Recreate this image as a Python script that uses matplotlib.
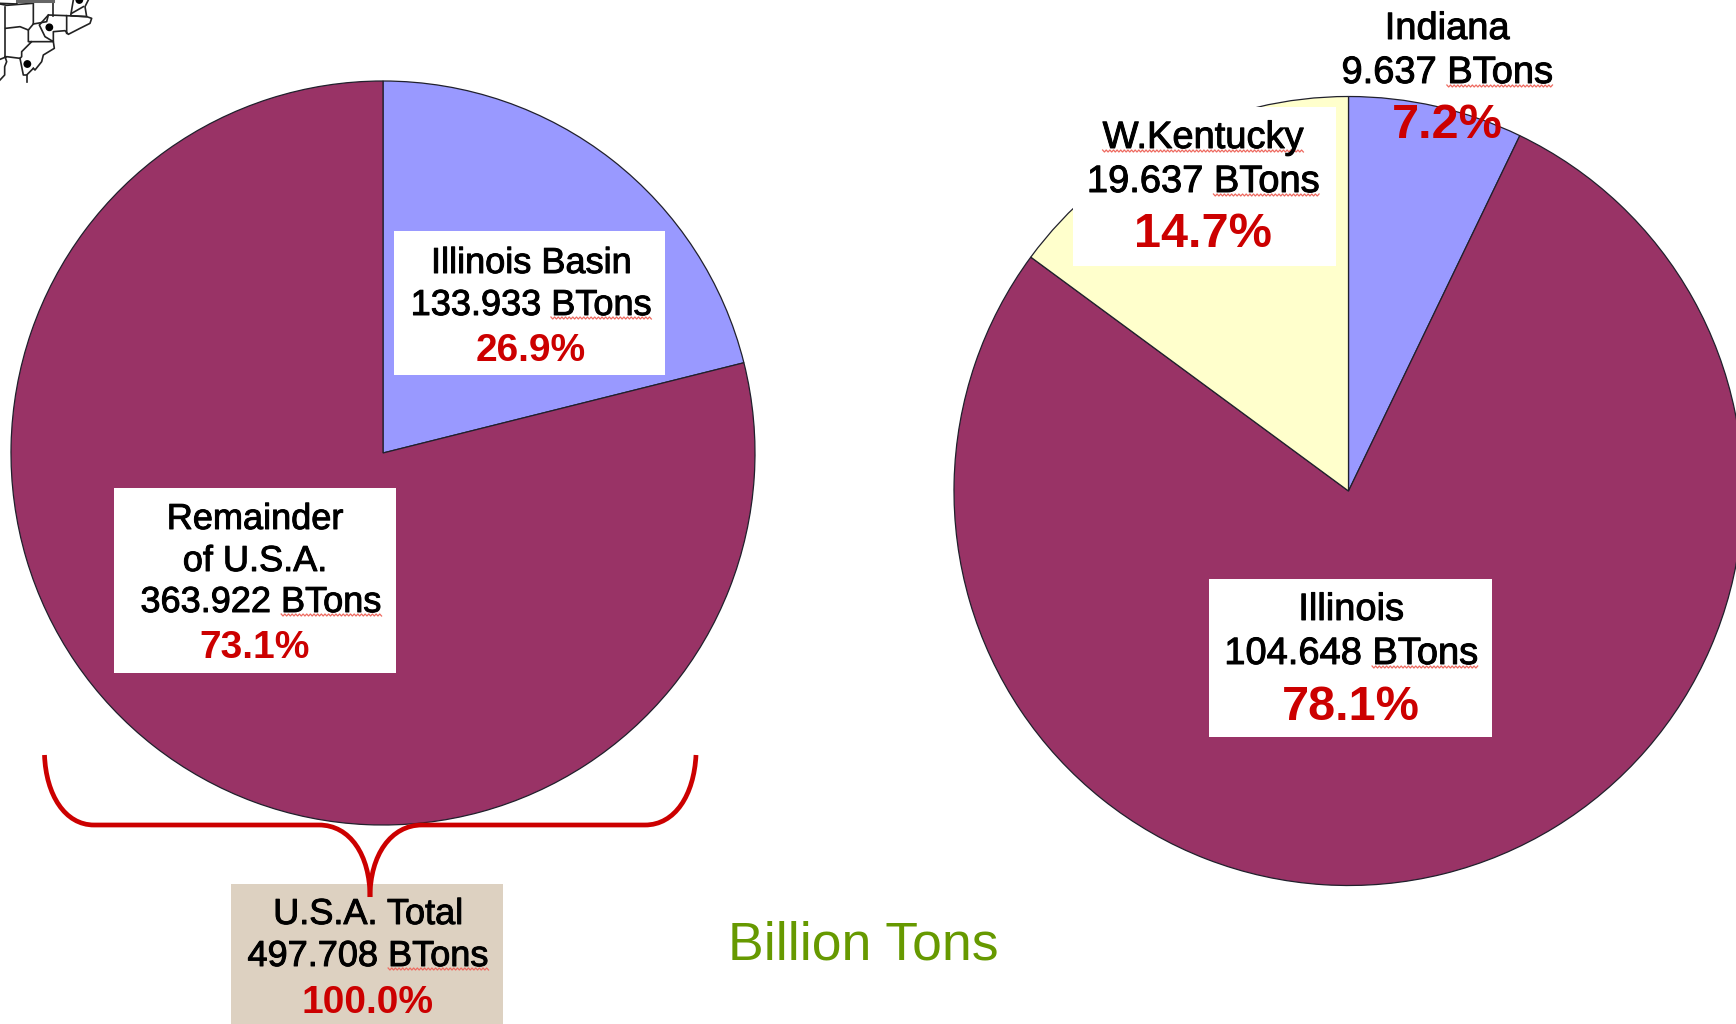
import numpy as np
import matplotlib
matplotlib.use("Agg")
import matplotlib.pyplot as plt
import matplotlib.patheffects as pe
from matplotlib.patches import Rectangle, PathPatch, Circle
from matplotlib.path import Path

plt.rcParams['font.family'] = ['Liberation Sans', 'DejaVu Sans']

# ---- data ----
left_names = ["Illinois Basin", "Remainder", "of U.S.A."]
left_tons = [133.933, 363.922]
left_pct_labels = ["26.9%", "73.1%"]
left_drawn_share = [21.1, 78.9]      # angular share as drawn in the picture
left_colors = ["#9999FF", "#993366"]

right_names = ["Indiana", "Illinois", "W.Kentucky"]
right_tons = [9.637, 104.648, 19.637]
right_pct = [7.2, 78.1, 14.7]
right_drawn_share = [7.15, 77.95, 14.9]  # angular share as drawn in the picture
right_colors = ["#9999FF", "#993366", "#FFFFCC"]

total_label = "U.S.A. Total"
total_tons = 497.708
total_pct = "100.0%"
unit_title = "Billion Tons"

RED = "#CC0000"
W, H = 1736, 1024

fig = plt.figure(figsize=(W / 100, H / 100), dpi=100, facecolor="white")
ax = fig.add_axes([0, 0, 1, 1])


def Y(y):
    return H - y


edge = dict(edgecolor="#20202c", linewidth=0.9)
ax.pie(left_drawn_share, colors=left_colors, startangle=90, counterclock=False,
       center=(383, Y(453)), radius=372, wedgeprops=edge, frame=True)
ax.pie(right_drawn_share, colors=right_colors, startangle=90, counterclock=False,
       center=(1348.5, Y(491)), radius=394.5, wedgeprops=edge, frame=True)
ax.set_xlim(0, W)
ax.set_ylim(0, H)
ax.set_aspect("equal")
ax.axis("off")


def box(x0, y0, x1, y1, color="white", z=3):
    ax.add_patch(Rectangle((x0, Y(y1)), x1 - x0, y1 - y0, facecolor=color,
                           edgecolor="none", zorder=z))


box(394, 231, 665, 375)
box(114, 488, 396, 673)
box(1209, 579, 1492, 737)
box(1072.5, 107, 1336, 266)
box(231, 884, 503, 1024, color="#DDD1C1")

renderer = fig.canvas.get_renderer()


def squiggle(x0, x1, y):
    n = int((x1 - x0) / 1.8)
    xs = np.linspace(x0, x1, n + 1)
    ys = Y(y) + np.where(np.arange(n + 1) % 2 == 0, 1.0, -1.0)
    ax.plot(xs, ys, color="#EE6A60", lw=0.9, zorder=6)


def line(s, cx, base, size=26, underline=None, color="black", weight="normal"):
    t = ax.text(cx, Y(base), s, ha="center", va="baseline", fontsize=size,
                color=color, fontweight=weight, zorder=7)
    if weight == "normal":
        t.set_path_effects([pe.withStroke(linewidth=0.7, foreground=color)])
    if underline:
        bb = t.get_window_extent(renderer)
        probe = ax.text(0, 0, underline, fontsize=size)
        w = probe.get_window_extent(renderer).width
        probe.remove()
        if s.endswith(underline):
            squiggle(bb.x1 - w, bb.x1, base + 3)
        else:
            squiggle(bb.x0, bb.x0 + w, base + 3)
    return t


def tons(v):
    return f"{v:.3f} BTons"


# Left pie labels
line(left_names[0], 531, 273)
line(tons(left_tons[0]), 531, 315, underline="BTons")
line(left_pct_labels[0], 531, 361, size=28, color=RED, weight="bold")

line(left_names[1], 255, 529)
line(left_names[2], 255, 571)
line(tons(left_tons[1]), 261, 612, underline="BTons")
line(left_pct_labels[1], 255, 658, size=28, color=RED, weight="bold")

# Right pie labels
RS = 27.4
line(right_names[0], 1447, 39, size=RS)
line(tons(right_tons[0]), 1447, 83, size=RS, underline="BTons")
line(f"{right_pct[0]:.1f}%", 1447, 138, size=35, color=RED, weight="bold")

line(right_names[2], 1203, 148, size=RS, underline="W.Kentucky")
line(tons(right_tons[2]), 1203, 192, size=RS, underline="BTons")
line(f"{right_pct[2]:.1f}%", 1203, 247, size=35, color=RED, weight="bold")

line(right_names[1], 1351, 620, size=RS)
line(tons(right_tons[1]), 1351, 664, size=RS, underline="BTons")
line(f"{right_pct[1]:.1f}%", 1351, 720, size=35, color=RED, weight="bold")

# Total box
line(total_label, 368, 924)
line(tons(total_tons), 368, 966, underline="BTons")
line(total_pct, 368, 1013, size=28, color=RED, weight="bold")

ax.text(863, Y(960), unit_title, ha="center", va="baseline", fontsize=38.5,
        color="#669900", zorder=7)

# Red curly brace
M, L, C4 = Path.MOVETO, Path.LINETO, Path.CURVE4
brace_left = Path(
    [(44.5, Y(755)), (46, Y(795)), (65, Y(825)), (94, Y(825)),
     (319, Y(825)), (350, Y(825)), (370, Y(855)), (370, Y(897))],
    [M, C4, C4, C4, L, C4, C4, C4])
brace_right = Path(
    [(696, Y(755)), (694, Y(795)), (675, Y(825)), (645, Y(825)),
     (422, Y(825)), (391, Y(825)), (370, Y(855)), (370, Y(897))],
    [M, C4, C4, C4, L, C4, C4, C4])
for p in (brace_left, brace_right):
    ax.add_patch(PathPatch(p, facecolor="none", edgecolor=RED, lw=3.4,
                           zorder=6, capstyle="butt"))

# Locator map fragment (top-left), traced in pixels
map_lines = [
    [(0, 10), (50, 12), (52, 6), (97, 3)],
    [(97, 10), (20, 16), (0, 12)],
    [(14, 20), (14, 170), (18, 170)],
    [(17, 85), (60, 80), (85, 90)],
    [(100, 10), (100, 72), (85, 90), (85, 125), (95, 125), (65, 155), (65, 170),
     (60, 175), (20, 170), (0, 178)],
    [(100, 72), (140, 65), (145, 45), (200, 47), (200, 100)],
    [(145, 45), (118, 75), (135, 110), (160, 125), (160, 95), (195, 92),
     (205, 103), (240, 85), (270, 70), (275, 55), (260, 50), (200, 47)],
    [(95, 125), (160, 125), (163, 145), (130, 165), (125, 185), (105, 210),
     (100, 205)],
    [(60, 175), (70, 225), (80, 225), (100, 205)],
    [(80, 225), (80, 245)],
    [(15, 170), (20, 185), (14, 200), (14, 225), (0, 240)],
    [(160, 0), (160, 47)],
    [(220, 0), (212, 47), (260, 50), (255, 20), (265, 0)],
    [(215, 40), (250, 20)],
]
for pl in map_lines:
    arr = np.array(pl, float) / 3
    ax.plot(arr[:, 0], H - arr[:, 1], color="#222222", lw=1.2, zorder=2,
            solid_joinstyle="round")
ax.plot([50 / 3, 160 / 3], [H - 1, H - 1], color="#666666", lw=2.2, zorder=2)
for cx, cy in [(148, 82), (82, 192), (238, 0)]:
    ax.add_patch(Circle((cx / 3, H - cy / 3), 3.2, color="black", zorder=3))

fig.savefig("out.png", dpi=100, facecolor="white")
